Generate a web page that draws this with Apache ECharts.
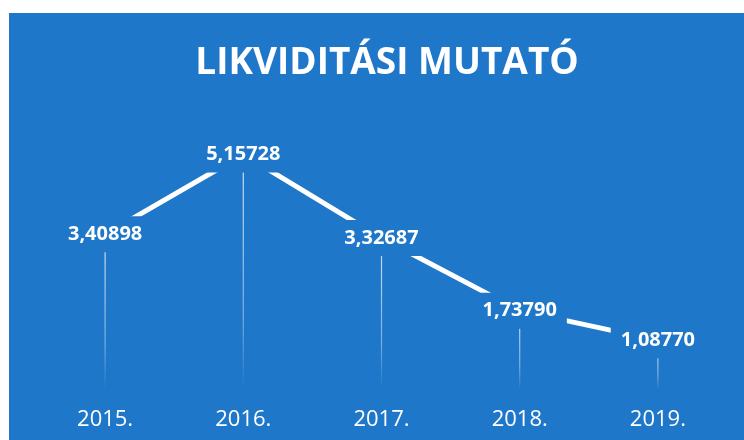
<!DOCTYPE html>
<html>
<head>
<meta charset="utf-8">
<script src="https://cdn.jsdelivr.net/npm/echarts@6/dist/echarts.min.js"></script>
<style>
  html, body { margin: 0; padding: 0; background: #ffffff; }
  #chart { width: 744px; height: 440px; }
</style>
</head>
<body>
<div id="chart"></div>
<script>
const years = ['2015.', '2016.', '2017.', '2018.', '2019.'];
const values = [3.40898, 5.15728, 3.32687, 1.73790, 1.08770];
const valueLabels = ['3,40898', '5,15728', '3,32687', '1,73790', '1,08770'];
const titleText = 'LIKVIDITÁSI MUTATÓ';

const BLUE = '#1e77c8';
const chart = echarts.init(document.getElementById('chart'));
chart.setOption({
  backgroundColor: '#ffffff',
  animation: false,
  graphic: [{
    type: 'rect', left: 9, top: 13, z: -10,
    shape: { width: 735, height: 427 },
    style: { fill: BLUE }
  }],
  title: {
    text: titleText,
    left: 382, top: 40, textAlign: 'center',
    textStyle: { color: '#ffffff', fontFamily: 'Open Sans', fontWeight: 'bold', fontSize: 37 }
  },
  grid: { left: 36, right: 17, top: 116, bottom: 50 },
  xAxis: {
    type: 'category', data: years, boundaryGap: true,
    axisLine: { show: false }, axisTick: { show: false }, splitLine: { show: false },
    axisLabel: { color: '#ffffff', fontFamily: 'Open Sans', fontSize: 22, margin: 19 }
  },
  yAxis: { type: 'value', min: 0, max: 6, show: false, splitLine: { show: false } },
  series: [{
    type: 'bar', z: 1, data: values, barWidth: 1.2, silent: true,
    itemStyle: {
      color: new echarts.graphic.LinearGradient(0, 0, 0, 1, [
        { offset: 0, color: 'rgba(255,255,255,0.8)' },
        { offset: 0.7, color: 'rgba(255,255,255,0.4)' },
        { offset: 0.96, color: 'rgba(255,255,255,0.05)' },
        { offset: 1, color: 'rgba(255,255,255,0)' }
      ])
    }
  }, {
    type: 'line', z: 2, data: values,
    symbol: 'circle', symbolSize: 1,
    itemStyle: { color: '#ffffff' },
    lineStyle: { color: '#ffffff', width: 5 },
    label: {
      show: true, position: 'inside',
      formatter: p => valueLabels[p.dataIndex],
      color: '#ffffff', fontFamily: 'Open Sans', fontWeight: 'bold', fontSize: 20,
      lineHeight: 20,
      backgroundColor: BLUE, padding: [8, 10]
    }
  }]
});
</script>
</body>
</html>
